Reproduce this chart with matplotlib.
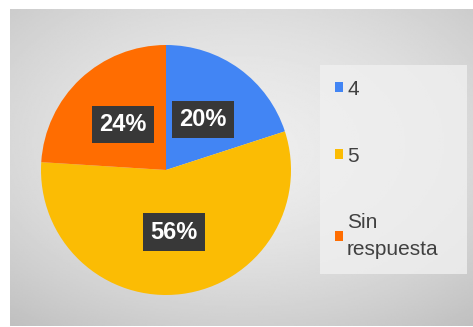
import numpy as np
import matplotlib.pyplot as plt
from matplotlib.patches import Patch

plt.rcParams['font.family'] = ['Liberation Sans', 'DejaVu Sans']

# Data
labels = ['4', '5', 'Sin\nrespuesta']
values = [20, 56, 24]
colors = ['#4285f4', '#fbbc04', '#ff6d01']

fig = plt.figure(figsize=(4.73, 3.27), dpi=100)
fig.patch.set_facecolor('white')

# gray background, light in the middle / top, darker at the bottom
bg = fig.add_axes([10 / 473, 1 / 327, 463 / 473, 317 / 327])
yy, xx = np.mgrid[-1:1:200j, -1:1:300j]
r = np.sqrt((xx * 0.85) ** 2 + (yy * 0.9) ** 2)
shade = 0.955 - 0.11 * np.clip(r, 0, 1.4) ** 1.6 - 0.05 * (yy + 1) / 2
bg.imshow(shade, cmap='gray', vmin=0, vmax=1, aspect='auto', extent=[0, 1, 0, 1])
bg.axis('off')

# pie
ax = fig.add_axes([(166 - 125) / 473, (327 - 170 - 125) / 327, 250 / 473, 250 / 327])
wedges, texts, autotexts = ax.pie(
    values, colors=colors, startangle=90, counterclock=False,
    autopct='%1.0f%%', pctdistance=0.5, radius=1,
    wedgeprops=dict(linewidth=0),
    textprops=dict(color='white', fontsize=17, fontweight='bold'))
for t in autotexts:
    t.set_bbox(dict(boxstyle='square,pad=0.3', fc='#383838', ec='none'))
ax.set_xlim(-1, 1)
ax.set_ylim(-1, 1)
ax.set_aspect('equal')

# legend
handles = [Patch(facecolor=c, edgecolor='none') for c in colors]
leg = fig.legend(handles, labels, loc='upper left', mode='expand',
                 bbox_to_anchor=(320 / 473, 52 / 327, 147 / 473, 210 / 327),
                 fontsize=15, frameon=True, fancybox=False,
                 handlelength=0.4, handleheight=0.4, handletextpad=0.2,
                 labelspacing=2.3, borderpad=0.7, borderaxespad=0)
leg.get_frame().set_facecolor('#f0f0f0')
leg.get_frame().set_edgecolor('none')
for t in leg.get_texts():
    t.set_color('#404040')
    t.set_linespacing(1.5)

fig.savefig('out.png', dpi=100)
